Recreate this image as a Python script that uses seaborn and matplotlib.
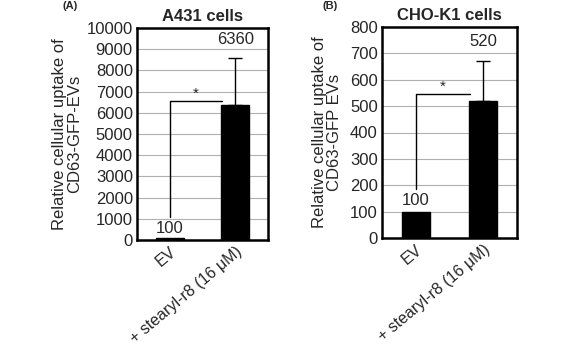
import matplotlib
matplotlib.use("Agg")
import matplotlib.pyplot as plt
import seaborn as sns
import pandas as pd
import numpy as np

sns.set_theme(style="white")
plt.rcParams['font.family'] = ['Liberation Sans', 'DejaVu Sans']

categories = ["EV", "+ stearyl-r8 (16 \u03bcM)"]
a431_values = [100, 6360]
a431_err = [0, 2240]
cho_values = [100, 520]
cho_err = [0, 150]
a431_ticks = list(range(0, 10001, 1000))
cho_ticks = list(range(0, 801, 100))

fig = plt.figure(figsize=(5.61, 3.59), dpi=100)
W, H = 561, 359
def add_ax(l, t, r, b):
    return fig.add_axes([l / W, 1 - b / H, (r - l) / W, (b - t) / H])

ax1 = add_ax(137, 28, 268, 240)
ax2 = add_ax(382, 27, 517, 238)

panels = [
    (ax1, a431_values, a431_err, a431_ticks, "A431 cells",
     "Relative cellular uptake of\nCD63-GFP-EVs", (6550, 1100), [560, 9450], 3),
    (ax2, cho_values, cho_err, cho_ticks, "CHO-K1 cells",
     "Relative cellular uptake of\nCD63-GFP EVs", (546, 186), [143, 745], 6),
]

for ax, vals, errs, ticks, title, ylab, (brk_top, brk_bot), lab_y, lpad in panels:
    df = pd.DataFrame({"cond": categories, "val": vals})
    sns.barplot(data=df, x="cond", y="val", color="black", width=0.42,
                edgecolor="black", saturation=1, ax=ax, errorbar=None)
    xs = np.arange(len(categories))
    for x, v, e in zip(xs, vals, errs):
        if e > 0:
            ax.errorbar(x, v, yerr=[[0], [e]], fmt="none", ecolor="black",
                        elinewidth=1, capsize=5, capthick=1, zorder=3)
    # significance bracket
    ax.plot([0, 0, 0.8], [brk_bot, brk_top, brk_top], color="black", lw=1, zorder=3)
    ax.text(0.4, brk_top, "*", ha="center", va="bottom", fontsize=11)
    # value labels
    for x, v, ly in zip(xs, vals, lab_y):
        ax.text(x, ly, str(v), ha="center", va="center", fontsize=12)
    ax.set_ylim(ticks[0], ticks[-1])
    ax.set_xlim(-0.5, 1.5)
    ax.set_yticks(ticks)
    ax.set_yticklabels([str(t) for t in ticks], fontsize=12)
    ax.yaxis.grid(True, color="#b0b0b0", lw=0.8)
    ax.set_axisbelow(True)
    ax.tick_params(axis="y", length=0, pad=3)
    ax.tick_params(axis="x", length=0, pad=3)
    ax.set_xticks(xs)
    ax.set_xticklabels(categories, rotation=40, ha="right",
                       rotation_mode="anchor", fontsize=11.5)
    ax.set_xlabel("")
    ax.set_ylabel(ylab, fontsize=12, labelpad=lpad, linespacing=1.0)
    ax.set_title(title, fontsize=12, fontweight="bold", pad=5)
    for s in ax.spines.values():
        s.set_visible(True)
        s.set_color("black")
        s.set_linewidth(1.8)

fig.text(70 / W, 1 - 1 / H, "(A)", ha="center", va="top", fontsize=8, fontweight="bold")
fig.text(330 / W, 1 - 1 / H, "(B)", ha="center", va="top", fontsize=8, fontweight="bold")

fig.savefig("out.png", dpi=100, facecolor="white")
